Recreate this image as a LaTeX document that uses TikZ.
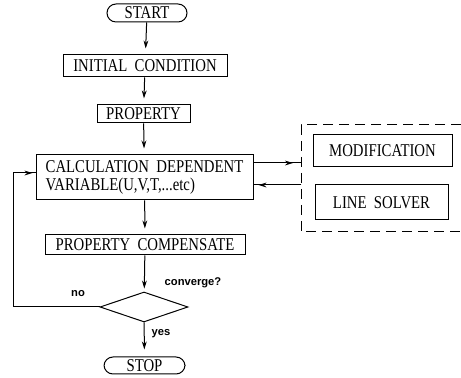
\documentclass[tikz,border=0pt]{standalone}
\usepackage{fontspec}
\setmainfont{Liberation Serif}[FakeStretch=0.82]
\newfontfamily\tagfont{Liberation Sans}
\usetikzlibrary{arrows.meta,shapes.geometric}
\tikzset{
  box/.style={draw, line width=0.5pt, inner sep=0pt, font=\fontsize{9}{9}\selectfont},
  term/.style={box, rounded corners=4.5pt},
  flow/.style={line width=0.5pt, -{Stealth[length=4pt,width=2.4pt]}},
  tag/.style={font=\tagfont\bfseries\fontsize{5.6}{6}\selectfont, inner sep=0pt}
}
\begin{document}
\begin{tikzpicture}[x=0.5pt, y=-0.5pt]
\useasboundingbox (0,0) rectangle (461,378);
% Inicio y fin
\node[term, minimum width=40pt, minimum height=9pt] (start) at (147,13) {START};
\node[term, minimum width=40.5pt, minimum height=8.5pt] (stop) at (144.5,365.5) {STOP};
% Cajas principales
\node[box, minimum width=82pt, minimum height=11pt] (init) at (145,66) {INITIAL\ \ CONDITION};
\node[box, minimum width=46.5pt, minimum height=9pt] (prop) at (143.5,114) {PROPERTY};
\node[box, minimum width=108.5pt, minimum height=22.5pt, align=left] (calc) at (144.5,177.5)
  {CALCULATION\ \ DEPENDENT\\[0pt]VARIABLE(U,V,T,...etc)};
\node[box, minimum width=100pt, minimum height=10pt] (comp) at (145,245) {PROPERTY\ \ COMPENSATE};
% Decision
\node[draw, line width=0.5pt, shape=diamond, inner sep=0pt, minimum width=44pt, minimum height=15pt] (conv) at (144,307) {};
\node[tag] (convtag) at (193,283) {converge?};
\node[tag] (notag) at (78,294) {no};
\node[tag] (yestag) at (161,334) {yes};
% Grupo a la derecha
\draw[line width=0.5pt, dash pattern=on 5pt off 3pt] (461,125) -- (301,125) -- (301,232) -- (461,232);
\node[box, minimum width=69.5pt, minimum height=16pt] (modif) at (382.5,151) {MODIFICATION};
\node[box, minimum width=66.5pt, minimum height=17.5pt] (solver) at (381.5,202.5) {LINE\ \ SOLVER};
\coordinate (gin) at (301,163);
\coordinate (gout) at (301,185);
% Flechas
\draw[flow, shorten >=3pt] (start) -- (init);
\draw[flow, shorten >=3pt] (init) -- (prop);
\draw[flow, shorten >=3pt] (prop) -- (calc);
\draw[flow, shorten >=3pt] (calc) -- (comp);
\draw[flow, shorten >=1.5pt] (comp) -- (conv);
\draw[flow, shorten >=3.5pt] (conv) -- (stop);
\draw[line width=0.5pt] (calc.east |- gin) -- (gin);
\draw[flow, shorten >=4pt] (calc.east |- gin) -- (gin);
\draw[line width=0.5pt] (gout) -- (calc.east |- gout);
\draw[flow, shorten >=2.5pt] (gout) -- (calc.east |- gout);
% Retorno
\coordinate (back) at (13,173);
\draw[line width=0.5pt] (conv.west) -| (back) -- (calc.west |- back);
\draw[flow, shorten >=1.5pt] (back) -- (calc.west |- back);
\end{tikzpicture}
\end{document}
